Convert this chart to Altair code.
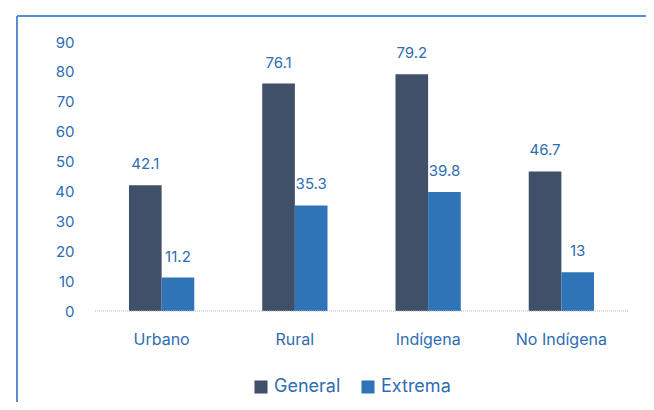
import altair as alt
import pandas as pd

categories = ["Urbano", "Rural", "Indígena", "No Indígena"]
general = [42.1, 76.1, 79.2, 46.7]
extrema = [11.2, 35.3, 39.8, 13]
series = ["General", "Extrema"]
y_ticks = [0, 10, 20, 30, 40, 50, 60, 70, 80, 90]

rows = []
for c, g, e in zip(categories, general, extrema):
    rows.append({"cat": c, "serie": "General", "valor": g})
    rows.append({"cat": c, "serie": "Extrema", "valor": e})
df = pd.DataFrame(rows)

BLUE_TEXT = "#2f6db3"
colors = ["#3f5068", "#2e74b7"]
FONT = "Inter"

x_axis = alt.Axis(labelAngle=0, domain=False, ticks=False, labelPadding=20,
                  labelFontSize=16, labelColor=BLUE_TEXT, labelFont=FONT)
y_axis = alt.Axis(values=y_ticks, tickCount=10, domain=False, ticks=False, grid=False,
                  labelOverlap=False, labelPadding=21, labelFontSize=15,
                  labelColor=BLUE_TEXT, labelFont=FONT)
x_enc = alt.X("cat:N", sort=categories, title=None,
              scale=alt.Scale(paddingInner=0.51, paddingOuter=0.255), axis=x_axis)
y_enc = alt.Y("valor:Q", title=None,
              scale=alt.Scale(domain=[0, 90], nice=False, zero=True), axis=y_axis)
xoff = alt.XOffset("serie:N", sort=series, scale=alt.Scale(paddingInner=0, paddingOuter=0))

base = alt.Chart(df)

bars = base.mark_bar().encode(
    x=x_enc, y=y_enc, xOffset=xoff,
    color=alt.Color("serie:N", sort=series, title=None,
                    scale=alt.Scale(domain=series, range=colors),
                    legend=alt.Legend(orient="none", legendX=157, legendY=336,
                                      direction="horizontal", symbolType="square",
                                      symbolSize=170, symbolStrokeWidth=0,
                                      labelFontSize=18, labelColor=BLUE_TEXT,
                                      labelFont=FONT, labelOffset=4, columnPadding=18)),
)

labels = base.mark_text(baseline="middle", dy=-21, fontSize=15,
                        color=BLUE_TEXT, font=FONT).encode(
    x=x_enc, y=y_enc, xOffset=xoff, text=alt.Text("valor:Q"),
)

baseline = alt.Chart(pd.DataFrame({"valor": [0]})).mark_rule(
    color="#b5b5b5", strokeDash=[1, 1], strokeWidth=1.2).encode(y=y_enc)

frame_left = base.mark_rule(color="#5a8fd0", strokeWidth=1.5, clip=False).encode(
    x=alt.value(-78), y=alt.value(-26), y2=alt.value(400))
frame_top = base.mark_rule(color="#5a8fd0", strokeWidth=1.5, clip=False).encode(
    x=alt.value(-78), x2=alt.value(620), y=alt.value(-26))

chart = alt.layer(bars, labels, baseline, frame_left, frame_top).properties(
    width=533, height=269,
    autosize=alt.AutoSizeParams(type="none"),
    padding={"left": 87, "top": 34, "right": 18, "bottom": 91},
).configure(font=FONT
).configure_view(strokeOpacity=0, strokeWidth=0
).configure_axisY(labelOverlap=False, grid=False, domain=False, ticks=False, tickCount=10)

chart.save("out.html", embed_options={"renderer": "svg", "actions": False})
